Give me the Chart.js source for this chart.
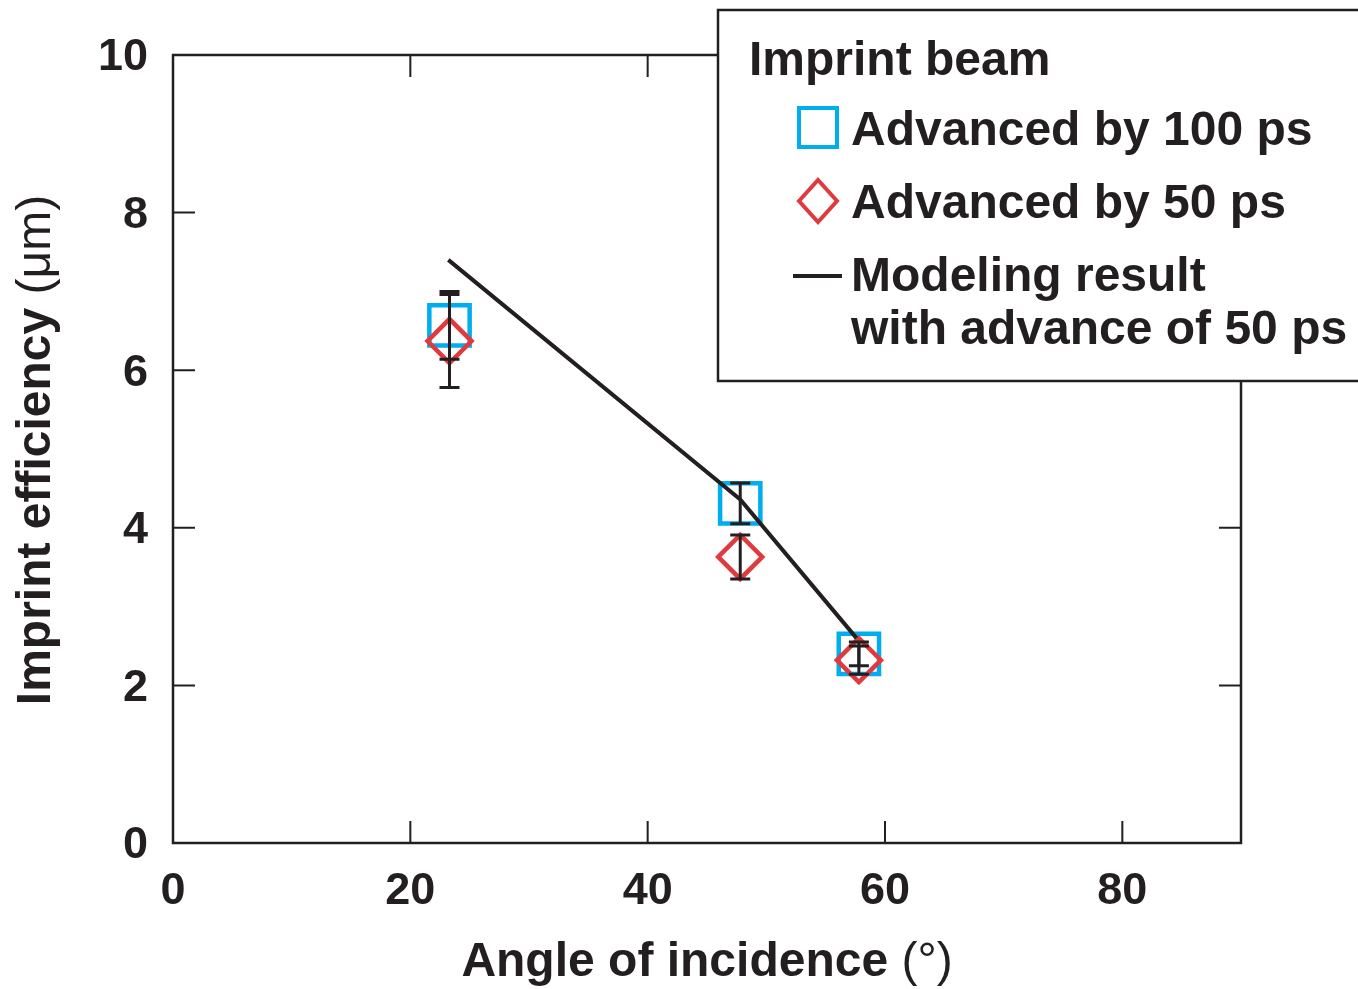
<!DOCTYPE html>
<html>
<head>
<meta charset="utf-8">
<script src="https://cdn.jsdelivr.net/npm/chart.js@4"></script>
<style>
  html, body { margin: 0; padding: 0; background: #fff; }
  #wrap { width: 1358px; height: 989px; }
</style>
</head>
<body>
<div id="wrap"><canvas id="chart" width="1358" height="989"></canvas></div>
<script>
// data
const angles100 = [23.3, 47.8, 57.8];
const eff100 = [6.57, 4.31, 2.40];
const err100 = [0.43, 0.26, 0.15];

const angles50 = [23.3, 47.8, 57.8];
const eff50 = [6.37, 3.63, 2.32];
const err50 = [0.59, 0.28, 0.18];

const modelAngles = [23.2, 47.8, 57.6];
const modelEff = [7.4, 4.36, 2.6];

const xTicks = [0, 20, 40, 60, 80];
const yTicks = [0, 2, 4, 6, 8, 10];

const INK = '#231f20';
const BLUE = '#00aeef';
const RED = '#e03a3e';
const FONT = "'Liberation Sans', Arial, sans-serif";

function toPoints(xs, ys) {
    return xs.map((x, i) => ({ x: x, y: ys[i] }));
}

// frame, inward ticks, error bars, legend box, axis titles
const decorPlugin = {
    id: 'decor',
    beforeDatasetsDraw(chart) {
        const ctx = chart.ctx;
        const a = chart.chartArea;
        const xs = chart.scales.x;
        const ys = chart.scales.y;
        const len = 22;
        ctx.save();
        ctx.strokeStyle = INK;
        ctx.lineWidth = 2.5;
        ctx.strokeRect(a.left, a.top, a.right - a.left, a.bottom - a.top);
        ctx.lineWidth = 2;
        ctx.beginPath();
        xTicks.slice(1).forEach(v => {
            const px = xs.getPixelForValue(v);
            ctx.moveTo(px, a.bottom); ctx.lineTo(px, a.bottom - len);
            ctx.moveTo(px, a.top); ctx.lineTo(px, a.top + len);
        });
        yTicks.slice(1, -1).forEach(v => {
            const py = ys.getPixelForValue(v);
            ctx.moveTo(a.left, py); ctx.lineTo(a.left + len, py);
            ctx.moveTo(a.right, py); ctx.lineTo(a.right - len, py);
        });
        ctx.stroke();
        ctx.restore();
    },
    afterDatasetsDraw(chart) {
        const ctx = chart.ctx;
        const xs = chart.scales.x;
        const ys = chart.scales.y;
        const cap = 10;
        ctx.save();
        ctx.strokeStyle = INK;
        ctx.lineWidth = 3;
        const bars = (xv, yv, ev) => {
            xv.forEach((x, i) => {
                const px = xs.getPixelForValue(x);
                const hi = ys.getPixelForValue(yv[i] + ev[i]);
                const lo = ys.getPixelForValue(yv[i] - ev[i]);
                ctx.beginPath();
                ctx.moveTo(px, hi); ctx.lineTo(px, lo);
                ctx.moveTo(px - cap, hi); ctx.lineTo(px + cap, hi);
                ctx.moveTo(px - cap, lo); ctx.lineTo(px + cap, lo);
                ctx.stroke();
            });
        };
        bars(angles100, eff100, err100);
        bars(angles50, eff50, err50);
        ctx.restore();
    },
    afterDraw(chart) {
        const ctx = chart.ctx;
        ctx.save();

        // axis titles (bold words, regular units)
        ctx.fillStyle = INK;
        ctx.textBaseline = 'middle';
        const mixed = (bold, plain, cx, cy) => {
            ctx.font = 'bold 48px ' + FONT;
            const w1 = ctx.measureText(bold).width;
            ctx.font = '48px ' + FONT;
            const w2 = ctx.measureText(plain).width;
            let x = cx - (w1 + w2) / 2;
            ctx.textAlign = 'left';
            ctx.font = 'bold 48px ' + FONT;
            ctx.fillText(bold, x, cy);
            ctx.font = '48px ' + FONT;
            ctx.fillText(plain, x + w1, cy);
        };
        mixed('Angle of incidence ', '(°)', 707, 963);
        ctx.save();
        ctx.translate(37, 450);
        ctx.rotate(-Math.PI / 2);
        mixed('Imprint efficiency ', '(μm)', 0, 0);
        ctx.restore();

        // legend box
        ctx.fillStyle = '#fff';
        ctx.fillRect(718, 10, 700, 371);
        ctx.strokeStyle = INK;
        ctx.lineWidth = 2.5;
        ctx.strokeRect(718, 10, 700, 371);

        ctx.fillStyle = INK;
        ctx.textAlign = 'left';
        ctx.textBaseline = 'alphabetic';
        ctx.font = 'bold 48px ' + FONT;
        ctx.fillText('Imprint beam', 749, 75);
        ctx.fillText('Advanced by 100 ps', 851, 145);
        ctx.fillText('Advanced by 50 ps', 851, 218);
        ctx.fillText('Modeling result', 851, 291);
        ctx.fillText('with advance of 50 ps', 851, 344);

        ctx.lineWidth = 4;
        ctx.strokeStyle = BLUE;
        ctx.strokeRect(799, 108, 38, 39);
        ctx.strokeStyle = RED;
        ctx.beginPath();
        ctx.moveTo(799, 201); ctx.lineTo(818, 180); ctx.lineTo(837, 201); ctx.lineTo(818, 222);
        ctx.closePath();
        ctx.stroke();
        ctx.strokeStyle = INK;
        ctx.beginPath();
        ctx.moveTo(793, 276); ctx.lineTo(842, 276);
        ctx.stroke();

        ctx.restore();
    }
};

new Chart(document.getElementById('chart'), {
    type: 'scatter',
    data: {
        datasets: [{
            label: 'Modeling result with advance of 50 ps',
            data: toPoints(modelAngles, modelEff),
            showLine: true,
            borderColor: INK,
            borderWidth: 4,
            pointRadius: 0,
            order: 0
        }, {
            label: 'Advanced by 50 ps',
            data: toPoints(angles50, eff50),
            pointStyle: 'rectRot',
            pointRadius: 22,
            borderColor: RED,
            backgroundColor: 'rgba(0,0,0,0)',
            pointBorderWidth: 4.5,
            order: 1
        }, {
            label: 'Advanced by 100 ps',
            data: toPoints(angles100, eff100),
            pointStyle: 'rect',
            pointRadius: 28.5,
            borderColor: BLUE,
            backgroundColor: 'rgba(0,0,0,0)',
            pointBorderWidth: 4.5,
            order: 2
        }]
    },
    options: {
        responsive: false,
        animation: false,
        layout: { padding: { left: 0, top: 55, right: 117, bottom: 0 } },
        plugins: {
            legend: { display: false },
            tooltip: { enabled: false }
        },
        scales: {
            x: {
                type: 'linear',
                min: 0,
                max: 90,
                afterBuildTicks(scale) { scale.ticks = xTicks.map(v => ({ value: v })); },
                afterFit(scale) { scale.height = 146; },
                grid: { display: false, drawTicks: false },
                border: { display: false },
                ticks: {
                    padding: 22,
                    color: INK,
                    font: { family: FONT, size: 45, weight: 'bold' }
                }
            },
            y: {
                min: 0,
                max: 10,
                afterBuildTicks(scale) { scale.ticks = yTicks.map(v => ({ value: v })); },
                afterFit(scale) { scale.width = 173; },
                grid: { display: false, drawTicks: false },
                border: { display: false },
                ticks: {
                    padding: 25,
                    labelOffset: 3,
                    color: INK,
                    font: { family: FONT, size: 45, weight: 'bold' }
                }
            }
        }
    },
    plugins: [decorPlugin]
});
</script>
</body>
</html>
